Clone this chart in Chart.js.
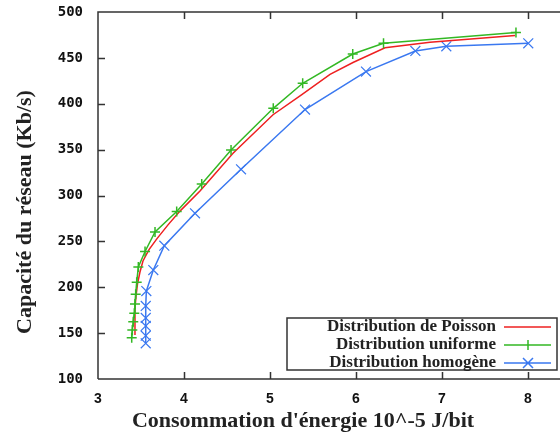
<!DOCTYPE html>
<html>
<head>
<meta charset="utf-8">
<script src="https://cdn.jsdelivr.net/npm/chart.js@4/dist/chart.umd.min.js"></script>
<style>
html, body { margin: 0; padding: 0; background: #fff; overflow: hidden; }
</style>
</head>
<body>
<canvas id="myChart" width="560" height="436"></canvas>
<script>
// values
const poissonX = [3.43, 3.43, 3.43, 3.442, 3.459, 3.488, 3.523, 3.593, 3.686, 3.814, 3.953, 4.186, 4.57, 5.035, 5.37, 5.698, 5.965, 6.337, 6.86, 7.849]
const poissonY = [148, 162, 177, 190.5, 203.5, 216.6, 228.6, 241, 253, 268, 283, 305, 346, 388, 410, 432, 445, 461, 467, 474.5]

const uniformeX = [3.392, 3.399, 3.41, 3.422, 3.43, 3.438, 3.45, 3.469, 3.547, 3.663, 3.915, 4.206, 4.547, 5.038, 5.38, 5.962, 6.32, 7.86]
const uniformeY = [145, 153.4, 162.5, 171.6, 181.7, 192.3, 205.4, 222.1, 239, 260.2, 282.6, 312.5, 349.6, 395, 422.3, 454.2, 465.9, 477.6]

const homogeneX = [3.555, 3.555, 3.555, 3.555, 3.555, 3.562, 3.643, 3.771, 4.128, 4.663, 5.407, 6.116, 6.69, 7.05, 8.003]
const homogeneY = [138.9, 147.2, 157.8, 166.5, 179.6, 195.9, 218.8, 245.3, 280.6, 328.6, 393.7, 435.1, 457.5, 462.6, 465.9]

const xTicks = [3, 4, 5, 6, 7, 8]
const yTicks = [100, 150, 200, 250, 300, 350, 400, 450, 500]

const labels = ['Distribution de Poisson', 'Distribution uniforme', 'Distribution homogène']
const colors = ['#ee2020', '#33b824', '#3a78f0']

const xTitle = "Consommation d'énergie 10^-5 J/bit"
const yTitle = 'Capacité du réseau (Kb/s)'

function toPoints(xs, ys) {
    return xs.map((x, i) => ({ x: x, y: ys[i] }))
}

const axisColor = '#333'

// frame, inward tick marks, axis titles and legend box
const framePlugin = {
    id: 'frame',
    afterDraw(chart) {
        const ctx = chart.ctx
        const area = chart.chartArea
        const xs = chart.scales.x
        const ys = chart.scales.y
        ctx.save()
        ctx.strokeStyle = axisColor
        ctx.lineWidth = 1.5
        ctx.beginPath()
        ctx.moveTo(area.left, area.bottom)
        ctx.lineTo(area.left, area.top)
        ctx.lineTo(area.right, area.top)
        ctx.moveTo(area.left, area.bottom)
        ctx.lineTo(area.right, area.bottom)
        xTicks.slice(1).forEach(v => {
            const px = Math.round(xs.getPixelForValue(v)) + 0.5
            ctx.moveTo(px, area.top)
            ctx.lineTo(px, area.top + 7)
            ctx.moveTo(px, area.bottom)
            ctx.lineTo(px, area.bottom - 7)
        })
        yTicks.slice(1, -1).forEach(v => {
            const py = Math.round(ys.getPixelForValue(v)) + 0.5
            ctx.moveTo(area.left, py)
            ctx.lineTo(area.left + 7, py)
        })
        ctx.stroke()

        // axis titles
        ctx.fillStyle = '#222'
        ctx.font = 'bold 22px "Liberation Serif", serif'
        ctx.textAlign = 'center'
        ctx.textBaseline = 'middle'
        ctx.fillText(xTitle, 303, 421)
        ctx.save()
        ctx.translate(25, 212)
        ctx.rotate(-Math.PI / 2)
        ctx.fillText(yTitle, 0, 0)
        ctx.restore()

        // legend
        ctx.fillStyle = '#fff'
        ctx.fillRect(287, 318, 270, 52)
        ctx.strokeStyle = axisColor
        ctx.lineWidth = 1.5
        ctx.strokeRect(287, 318, 270, 52)
        ctx.font = 'bold 17px "Liberation Serif", serif'
        ctx.textAlign = 'right'
        const rows = [327, 345, 363]
        labels.forEach((lab, i) => {
            ctx.fillStyle = '#222'
            ctx.fillText(lab, 496, rows[i])
            ctx.strokeStyle = colors[i]
            ctx.lineWidth = 1.5
            ctx.beginPath()
            ctx.moveTo(504, rows[i])
            ctx.lineTo(551, rows[i])
            if (i === 1) {
                ctx.moveTo(528, rows[i] - 5)
                ctx.lineTo(528, rows[i] + 5)
            }
            if (i === 2) {
                ctx.moveTo(523, rows[i] - 5)
                ctx.lineTo(533, rows[i] + 5)
                ctx.moveTo(523, rows[i] + 5)
                ctx.lineTo(533, rows[i] - 5)
            }
            ctx.stroke()
        })
        ctx.restore()
    }
}

new Chart(document.getElementById('myChart').getContext('2d'), {
    type: 'line',
    data: {
        datasets: [{
            label: labels[0],
            data: toPoints(poissonX, poissonY),
            borderColor: colors[0],
            borderWidth: 1.5,
            pointRadius: 0,
            fill: false,
            order: 2
        },
        {
            label: labels[1],
            data: toPoints(uniformeX, uniformeY),
            borderColor: colors[1],
            backgroundColor: colors[1],
            borderWidth: 1.5,
            pointStyle: 'cross',
            pointRadius: 5,
            pointBorderWidth: 1.5,
            fill: false,
            order: 1
        },
        {
            label: labels[2],
            data: toPoints(homogeneX, homogeneY),
            borderColor: colors[2],
            backgroundColor: colors[2],
            borderWidth: 1.5,
            pointStyle: 'crossRot',
            pointRadius: 7,
            pointBorderWidth: 1.2,
            fill: false,
            order: 3
        }]
    },
    options: {
        responsive: false,
        animation: false,
        devicePixelRatio: 1,
        layout: { autoPadding: false, padding: { top: 12, left: 0, right: 0, bottom: 0 } },
        plugins: {
            legend: { display: false },
            tooltip: { enabled: false }
        },
        elements: { line: { tension: 0 } },
        scales: {
            x: {
                type: 'linear',
                min: 3,
                max: 8.372,
                afterBuildTicks: scale => { scale.ticks = xTicks.map(v => ({ value: v })) },
                afterFit: scale => {
                    scale.height = 57
                    scale.paddingLeft = 0
                    scale.paddingRight = 0
                },
                grid: { display: false, drawTicks: false },
                border: { display: false },
                ticks: {
                    padding: 12,
                    color: '#111',
                    maxRotation: 0,
                    font: { family: '"Liberation Sans", Arial, sans-serif', weight: 'bold', size: 14 }
                }
            },
            y: {
                type: 'linear',
                min: 100,
                max: 500,
                afterBuildTicks: scale => { scale.ticks = yTicks.map(v => ({ value: v })) },
                afterFit: scale => {
                    scale.width = 98
                    scale.paddingTop = 0
                    scale.paddingBottom = 0
                },
                grid: { display: false, drawTicks: false },
                border: { display: false },
                ticks: {
                    padding: 15,
                    color: '#111',
                    font: { family: '"DejaVu Sans Mono", monospace', weight: 'bold', size: 14 }
                }
            }
        }
    },
    plugins: [framePlugin]
})
</script>
</body>
</html>
